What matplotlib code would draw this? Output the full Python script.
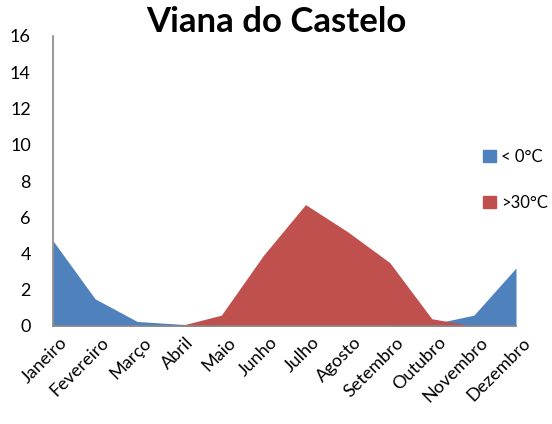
"""Dias com temperatura extrema em Viana do Castelo."""

import matplotlib.pyplot as plt
import matplotlib.patches as mpatches
from matplotlib.transforms import ScaledTranslation

meses = ["Janeiro", "Fevereiro", "Março", "Abril", "Maio", "Junho",
         "Julho", "Agosto", "Setembro", "Outubro", "Novembro", "Dezembro"]
abaixo_zero = [4.7, 1.5, 0.25, 0.1, 0, 0, 0, 0, 0, 0.1, 0.6, 3.2]
acima_30 = [0, 0, 0, 0, 0.6, 3.9, 6.7, 5.2, 3.5, 0.4, 0, 0]

cor_azul = "#4f81bd"
cor_vermelho = "#c0504d"


def main() -> None:
    plt.rcParams["font.family"] = ["Lato", "DejaVu Sans"]
    fig = plt.figure(figsize=(5.52, 4.24), dpi=100)
    ax = fig.add_axes([53 / 552, 1 - 326 / 424, (516 - 53) / 552, (326 - 36) / 424])

    x = list(range(len(meses)))
    ax.fill_between(x, abaixo_zero, color=cor_azul, linewidth=0)
    ax.fill_between(x, acima_30, color=cor_vermelho, linewidth=0)

    ax.set_xlim(0, len(meses) - 1)
    ax.set_ylim(0, 16)
    ax.set_yticks(range(0, 17, 2))
    ax.set_xticks(x)
    ax.set_xticklabels(meses, rotation=45, ha="right", rotation_mode="anchor")
    ax.tick_params(axis="both", labelsize=13, length=0)
    ax.tick_params(axis="y", pad=16)
    ax.tick_params(axis="x", pad=6)
    # desloca um pouco os rotulos para a direita, como no original
    desloc = ScaledTranslation(6 / 100, 0, fig.dpi_scale_trans)
    for rotulo in ax.get_xticklabels():
        rotulo.set_transform(rotulo.get_transform() + desloc)

    for lado in ["top", "right"]:
        ax.spines[lado].set_visible(False)
    for lado in ["left", "bottom"]:
        ax.spines[lado].set_color("#888888")
        ax.spines[lado].set_linewidth(1.2)

    fig.text(0.5, 1 - 22 / 424, "Viana do Castelo", ha="center", va="center",
             fontsize=25, fontweight="bold")

    legenda = [mpatches.Patch(color=cor_azul, label="< 0°C"),
               mpatches.Patch(color=cor_vermelho, label=">30°C")]
    fig.legend(handles=legenda, loc="center left",
               bbox_to_anchor=(483 / 552, 1 - 180 / 424), frameon=False,
               fontsize=12, handlelength=0.78, handleheight=0.78,
               handletextpad=0.3, labelspacing=1.8,
               borderpad=0, borderaxespad=0)

    fig.savefig("out.png", dpi=100)
    plt.close(fig)


if __name__ == "__main__":
    main()
